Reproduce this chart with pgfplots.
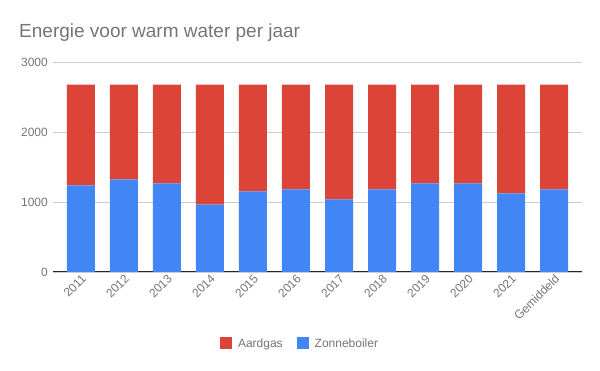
\documentclass[border=0pt]{standalone}
\usepackage{pgfplots}
\pgfplotsset{compat=1.18}
\usepackage{fontspec}
\setmainfont{Liberation Sans}
\definecolor{gred}{HTML}{DB4437}
\definecolor{gblue}{HTML}{4285F4}
\definecolor{gtext}{HTML}{757575}
\definecolor{ggrid}{HTML}{CCCCCC}
\begin{document}
\begin{tikzpicture}
\path[use as bounding box] (0pt,0pt) rectangle (600pt,371pt);
\node[anchor=west, text=gtext, font=\fontsize{19}{21}\selectfont, inner sep=0pt] at (19pt,338pt) {Energie voor warm water per jaar};
\begin{axis}[
  at={(53pt,99pt)}, anchor=south west,
  scale only axis, width=529pt, height=210pt,
  ybar stacked, bar width=28pt,
  xmin=-0.65, xmax=11.65, ymin=0, ymax=3000,
  xtick=data,
  xticklabels={2011,2012,2013,2014,2015,2016,2017,2018,2019,2020,2021,Gemiddeld},
  xticklabel style={rotate=45, anchor=north east, inner sep=1pt, text=gtext, font=\fontsize{12}{13}\selectfont},
  ytick={0,1000,2000,3000},
  yticklabel style={text=gtext, font=\fontsize{12}{13}\selectfont, inner sep=1pt, xshift=-4pt},
  /pgf/number format/assume math mode=true,
  /pgf/number format/1000 sep={},
  ymajorgrids, grid style={ggrid, line width=0.8pt},
  axis x line*=bottom, axis y line*=left,
  y axis line style={draw=none},
  x axis line style={black!85, line width=1pt, -},
  major tick length=0pt,
  enlargelimits=false,
  reverse legend,
  legend columns=2,
  legend style={at={(0.467,-0.343)}, anchor=center, draw=none, text=gtext,
    font=\fontsize{12}{13}\selectfont,
    /tikz/every even column/.append style={column sep=12pt},
    /tikz/every odd column/.append style={column sep=4pt}},
  legend image code/.code={\fill[#1] (0pt,-4.5pt) rectangle (12pt,7.5pt);},
]
\addplot[fill=gblue, draw=none] coordinates {(0,1238) (1,1324) (2,1267) (3,962) (4,1152) (5,1181) (6,1038) (7,1181) (8,1267) (9,1267) (10,1124) (11,1181)};
\addplot[fill=gred, draw=none] coordinates {(0,1438) (1,1352) (2,1409) (3,1714) (4,1524) (5,1495) (6,1638) (7,1495) (8,1409) (9,1409) (10,1552) (11,1495)};
\legend{Zonneboiler,Aardgas}
\end{axis}
\end{tikzpicture}
\end{document}
